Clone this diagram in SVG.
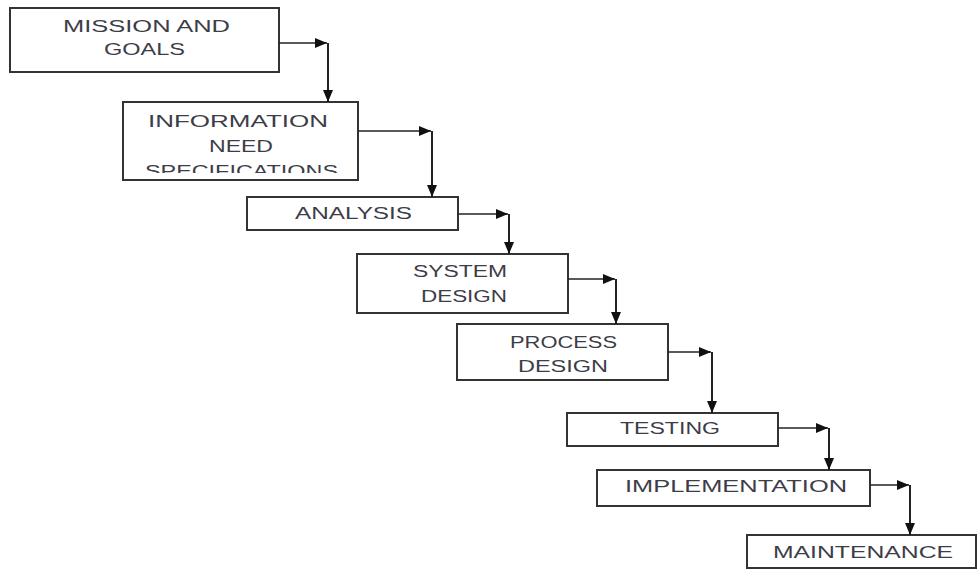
<svg xmlns="http://www.w3.org/2000/svg" width="977" height="570" viewBox="0 0 977 570">
  <style>
    .box { fill: #ffffff; stroke: #333333; stroke-width: 2; }
    .lbl { font-family: "Liberation Sans", Arial, sans-serif; font-size: 16px; fill: #3d3d48; }
    .wire { fill: none; stroke: #222222; stroke-width: 1.6; }
    .drop { fill: none; stroke: #222222; stroke-width: 2; }
  </style>
  <defs>
    <marker id="head" viewBox="0 0 12 10" refX="12" refY="5" markerWidth="12" markerHeight="10" markerUnits="userSpaceOnUse" orient="auto">
      <path d="M0,0 L12,5 L0,10 Z" fill="#111111"/>
    </marker>
    <clipPath id="clip-info">
      <rect x="123" y="102" width="235" height="71"/>
    </clipPath>
  </defs>
  <rect width="977" height="570" fill="#ffffff"/>

  <g id="mission-goals">
    <rect class="box" x="10" y="8" width="269" height="64"/>
    <text class="lbl" x="63" y="32" textLength="167" lengthAdjust="spacingAndGlyphs">MISSION AND</text>
    <text class="lbl" x="104" y="55" textLength="81" lengthAdjust="spacingAndGlyphs">GOALS</text>
  </g>

  <g id="information-need">
    <rect class="box" x="123" y="102" width="235" height="78"/>
    <g clip-path="url(#clip-info)">
      <text class="lbl" x="148" y="127" textLength="180" lengthAdjust="spacingAndGlyphs">INFORMATION</text>
      <text class="lbl" x="209" y="152" textLength="64" lengthAdjust="spacingAndGlyphs">NEED</text>
      <text class="lbl" x="145" y="177" textLength="193" lengthAdjust="spacingAndGlyphs">SPECIFICATIONS</text>
    </g>
  </g>

  <g id="analysis">
    <rect class="box" x="247" y="197" width="211" height="33"/>
    <text class="lbl" x="295" y="219" textLength="117" lengthAdjust="spacingAndGlyphs">ANALYSIS</text>
  </g>

  <g id="system-design">
    <rect class="box" x="357" y="254" width="211" height="59"/>
    <text class="lbl" x="413" y="277" textLength="94" lengthAdjust="spacingAndGlyphs">SYSTEM</text>
    <text class="lbl" x="421" y="302" textLength="86" lengthAdjust="spacingAndGlyphs">DESIGN</text>
  </g>

  <g id="process-design">
    <rect class="box" x="457" y="324" width="211" height="56"/>
    <text class="lbl" x="510" y="348" textLength="107" lengthAdjust="spacingAndGlyphs">PROCESS</text>
    <text class="lbl" x="518" y="372" textLength="90" lengthAdjust="spacingAndGlyphs">DESIGN</text>
  </g>

  <g id="testing">
    <rect class="box" x="567" y="413" width="211" height="33"/>
    <text class="lbl" x="620" y="434" textLength="100" lengthAdjust="spacingAndGlyphs">TESTING</text>
  </g>

  <g id="implementation">
    <rect class="box" x="597" y="470" width="273" height="36"/>
    <text class="lbl" x="625" y="492" textLength="222" lengthAdjust="spacingAndGlyphs">IMPLEMENTATION</text>
  </g>

  <g id="maintenance">
    <rect class="box" x="747" y="535" width="229" height="33"/>
    <text class="lbl" x="773" y="558" textLength="180" lengthAdjust="spacingAndGlyphs">MAINTENANCE</text>
  </g>

  <g id="connectors">
    <path class="wire" d="M279,43 H327" marker-end="url(#head)"/>
    <path class="drop" d="M328,43 V102" marker-end="url(#head)"/>

    <path class="wire" d="M358,131 H431" marker-end="url(#head)"/>
    <path class="drop" d="M432,131 V197" marker-end="url(#head)"/>

    <path class="wire" d="M458,214 H508" marker-end="url(#head)"/>
    <path class="drop" d="M509,214 V254" marker-end="url(#head)"/>

    <path class="wire" d="M568,279 H615" marker-end="url(#head)"/>
    <path class="drop" d="M616,279 V324" marker-end="url(#head)"/>

    <path class="wire" d="M668,352 H711" marker-end="url(#head)"/>
    <path class="drop" d="M712,352 V413" marker-end="url(#head)"/>

    <path class="wire" d="M778,428 H828" marker-end="url(#head)"/>
    <path class="drop" d="M829,428 V470" marker-end="url(#head)"/>

    <path class="wire" d="M870,485 H909" marker-end="url(#head)"/>
    <path class="drop" d="M910,485 V535" marker-end="url(#head)"/>
  </g>
</svg>
